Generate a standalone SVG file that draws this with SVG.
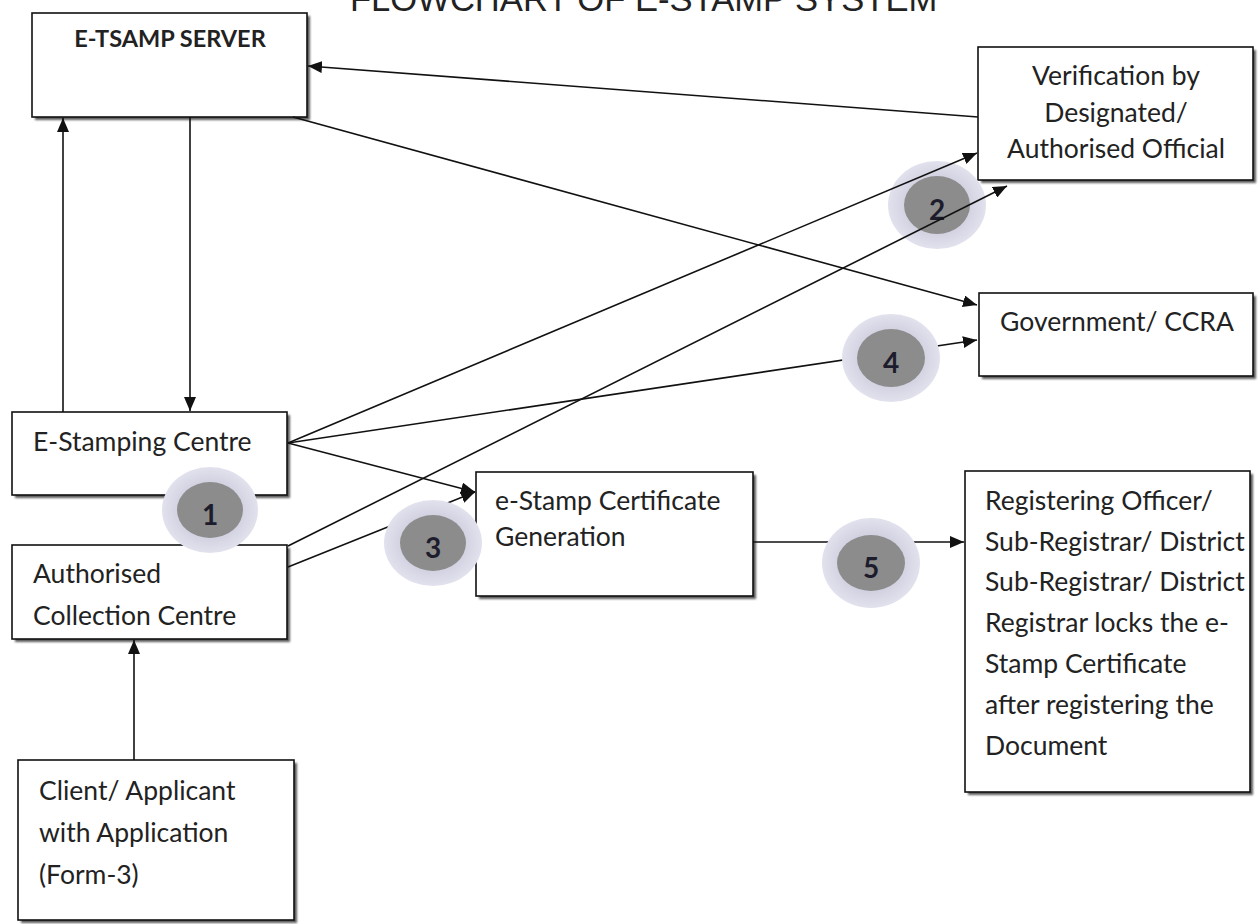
<svg xmlns="http://www.w3.org/2000/svg" width="1259" height="924" viewBox="0 0 1259 924">
<style>
.box{fill:#fff;stroke:#111;stroke-width:1.6}
.sh{fill:#5a5a5a;filter:url(#blur)}
.t{font-family:Lato,"Liberation Sans",sans-serif;font-size:26.5px;fill:#222}
.tb{font-family:Lato,"Liberation Sans",sans-serif;font-size:23.5px;font-weight:bold;fill:#222}
.title{font-family:"Liberation Sans",Arial,sans-serif;font-size:34.6px;fill:#222}
.c{fill:none;stroke:#111;stroke-width:1.6}
.outer{fill:url(#og)}
.inner{fill:#8c8c8c}
.num{font-family:Lato,"Liberation Sans",sans-serif;font-size:28px;font-weight:bold;fill:#1c1c2c;text-anchor:middle}
</style>
<defs>
<filter id="blur" x="-5%" y="-5%" width="110%" height="110%"><feGaussianBlur stdDeviation="0.8"/></filter>
<radialGradient id="og"><stop offset="0.6" stop-color="#cfcfdf"/><stop offset="1" stop-color="#e2e2ee"/></radialGradient>
<marker id="ah" viewBox="0 0 14 12" refX="14" refY="6" markerWidth="14" markerHeight="12" markerUnits="userSpaceOnUse" orient="auto"><path d="M0,0 L14,6 L0,12 z" fill="#111"/></marker>
</defs>
<rect width="1259" height="924" fill="#fff"/>
<text class="title" x="350" y="11">FLOWCHART OF E-STAMP SYSTEM</text>

<g id="server"><rect class="sh" x="35" y="16" width="275" height="104"/><rect class="box" x="32" y="13" width="275" height="104"/><text class="tb" x="170" y="47" text-anchor="middle">E-TSAMP SERVER</text></g>
<g id="verification"><rect class="sh" x="981" y="50" width="275" height="133"/><rect class="box" x="978" y="47" width="275" height="133"/><text class="t" text-anchor="middle"><tspan x="1116" y="85">Verification by</tspan><tspan x="1116" y="122">Designated/</tspan><tspan x="1116" y="158">Authorised Official</tspan></text></g>
<g id="government"><rect class="sh" x="982" y="296" width="274" height="83"/><rect class="box" x="979" y="293" width="274" height="83"/><text class="t" x="1117" y="331" text-anchor="middle">Government/ CCRA</text></g>
<g id="estamping"><rect class="sh" x="15" y="415" width="275" height="83"/><rect class="box" x="12" y="412" width="275" height="83"/><text class="t" x="33" y="451">E-Stamping Centre</text></g>
<g id="collection"><rect class="sh" x="15" y="548" width="275" height="94"/><rect class="box" x="12" y="545" width="275" height="94"/><text class="t"><tspan x="33" y="583">Authorised</tspan><tspan x="33" y="625">Collection Centre</tspan></text></g>
<g id="client"><rect class="sh" x="21" y="763" width="276" height="160"/><rect class="box" x="18" y="760" width="276" height="160"/><text class="t"><tspan x="39" y="800">Client/ Applicant</tspan><tspan x="39" y="842">with Application</tspan><tspan x="39" y="884">(Form-3)</tspan></text></g>
<g id="certificate"><rect class="sh" x="479" y="475" width="277" height="124"/><rect class="box" x="476" y="472" width="277" height="124"/><text class="t"><tspan x="495" y="510">e-Stamp Certificate</tspan><tspan x="495" y="546">Generation</tspan></text></g>
<g id="registering"><rect class="sh" x="968" y="474" width="285" height="321"/><rect class="box" x="965" y="471" width="285" height="321"/><text class="t"><tspan x="985" y="510">Registering Officer/</tspan><tspan x="985" y="551">Sub-Registrar/ District</tspan><tspan x="985" y="591">Sub-Registrar/ District</tspan><tspan x="985" y="632">Registrar locks the e-</tspan><tspan x="985" y="673">Stamp Certificate</tspan><tspan x="985" y="714">after registering the</tspan><tspan x="985" y="755">Document</tspan></text></g>

<g id="badge2"><ellipse class="outer" cx="937" cy="205" rx="49" ry="44"/><ellipse class="inner" cx="937" cy="205" rx="33" ry="29"/><text class="num" x="937" y="220">2</text></g>

<g id="connectors">
<line class="c" x1="63" y1="412" x2="63" y2="118" marker-end="url(#ah)"/>
<line class="c" x1="190" y1="117" x2="190" y2="411" marker-end="url(#ah)"/>
<line class="c" x1="978" y1="117" x2="308" y2="66" marker-end="url(#ah)"/>
<line class="c" x1="293" y1="117" x2="977" y2="305" marker-end="url(#ah)"/>
<line class="c" x1="288" y1="443" x2="977" y2="153" marker-end="url(#ah)"/>
<line class="c" x1="288" y1="443" x2="977" y2="340" marker-end="url(#ah)"/>
<line class="c" x1="288" y1="443" x2="475" y2="492" marker-end="url(#ah)"/>
<line class="c" x1="288" y1="546" x2="1007" y2="186" marker-end="url(#ah)"/>
<line class="c" x1="288" y1="567" x2="475" y2="492" marker-end="url(#ah)"/>
<line class="c" x1="134" y1="760" x2="134" y2="640" marker-end="url(#ah)"/>
<line class="c" x1="753" y1="542" x2="964" y2="542" marker-end="url(#ah)"/>
</g>

<g id="badge1"><ellipse class="outer" cx="210" cy="510" rx="48" ry="43"/><ellipse class="inner" cx="210" cy="510" rx="33" ry="28"/><text class="num" x="210" y="525">1</text></g>
<g id="badge3"><ellipse class="outer" cx="433" cy="543" rx="49" ry="43"/><ellipse class="inner" cx="433" cy="543" rx="33" ry="28"/><text class="num" x="433" y="558">3</text></g>
<g id="badge4"><ellipse class="outer" cx="891" cy="358" rx="49" ry="44"/><ellipse class="inner" cx="891" cy="358" rx="34" ry="29"/><text class="num" x="891" y="373">4</text></g>
<g id="badge5"><ellipse class="outer" cx="871" cy="563" rx="49" ry="45"/><ellipse class="inner" cx="871" cy="563" rx="34" ry="28"/><text class="num" x="871" y="578">5</text></g>
</svg>
